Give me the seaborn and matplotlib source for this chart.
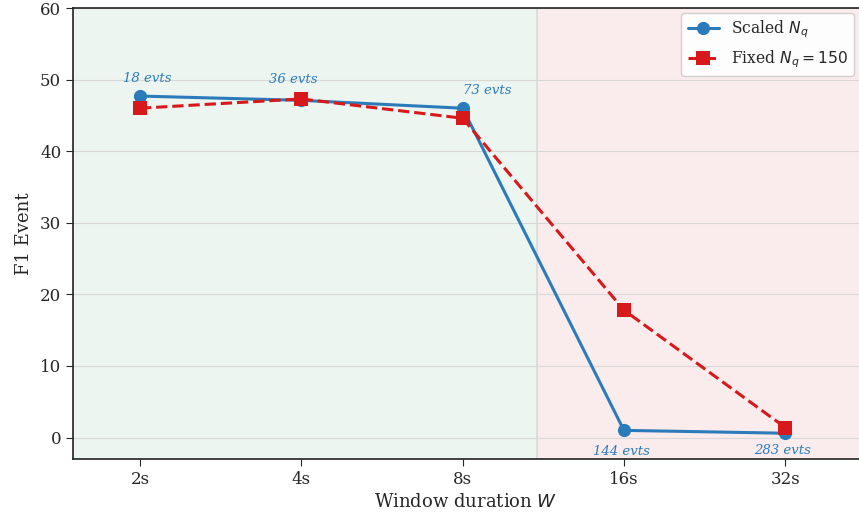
import matplotlib
matplotlib.use("Agg")
import matplotlib.pyplot as plt
import seaborn as sns
import numpy as np
import pandas as pd

# data
windows = ["2s", "4s", "8s", "16s", "32s"]
f1_scaled = [47.7, 47.1, 46.0, 1.0, 0.6]
f1_fixed = [46.0, 47.3, 44.6, 17.8, 1.4]
n_events = [18, 36, 73, 144, 283]

# label offsets in pixels (dx, dy)
label_offsets = [(7, 18), (-8, 21), (25, 18), (-3, -21), (-3, -17)]

blue = "#2b7bba"
red = "#d7191c"

sns.set_style("ticks")
plt.rcParams["font.family"] = ["DejaVu Serif"]

pos = np.arange(len(windows))
df = pd.DataFrame({"pos": pos, "scaled": f1_scaled, "fixed": f1_fixed})

fig = plt.figure(figsize=(8.59, 5.14), dpi=100)
ax = fig.add_axes([73 / 859, 55 / 514, 1 - 73 / 859, 451 / 514])

split = 2.46
ax.axvspan(-1, split, color="#e6f2ea", alpha=0.75, zorder=0, lw=0)
ax.axvspan(split, 6, color="#f9e6e6", alpha=0.75, zorder=0, lw=0)
ax.axvline(split, color="#cccccc", lw=1.5, alpha=0.5, zorder=0)

sns.lineplot(data=df, x="pos", y="scaled", ax=ax, color=blue, lw=2.2,
             marker="o", markersize=9.5, markeredgewidth=0,
             label="Scaled $N_q$", zorder=3)
sns.lineplot(data=df, x="pos", y="fixed", ax=ax, color=red, lw=2.2,
             linestyle="--", marker="s", markersize=9.5, markeredgewidth=0,
             label="Fixed $N_q = 150$", zorder=4)

for i, (n, off) in enumerate(zip(n_events, label_offsets)):
    ax.annotate(f"{n} evts", (pos[i], f1_scaled[i]), xytext=off,
                textcoords="offset pixels", ha="center", va="center",
                fontsize=9.5, style="italic", color=blue)

ax.set_xlim(-0.415, 4.457)
ax.set_ylim(-3, 60)
ax.set_xticks(pos)
ax.set_xticklabels(windows)
ax.set_yticks(range(0, 61, 10))
ax.tick_params(labelsize=12, length=5)
ax.tick_params(axis="x", pad=4)
ax.yaxis.grid(True, color="#d8d8d8", lw=0.8)
ax.set_axisbelow(True)
ax.spines["right"].set_visible(False)
for s in ["left", "bottom", "top"]:
    ax.spines[s].set_linewidth(1.2)
    ax.spines[s].set_color("#222222")

ax.set_xlabel("Window duration $W$", fontsize=13, labelpad=3)
ax.set_ylabel("F1 Event", fontsize=13, labelpad=5)
ax.legend(loc="upper right", fontsize=11.2, frameon=True, fancybox=True,
          framealpha=0.9, edgecolor="#cccccc", borderaxespad=0.3)

fig.savefig("out.png", dpi=100)
